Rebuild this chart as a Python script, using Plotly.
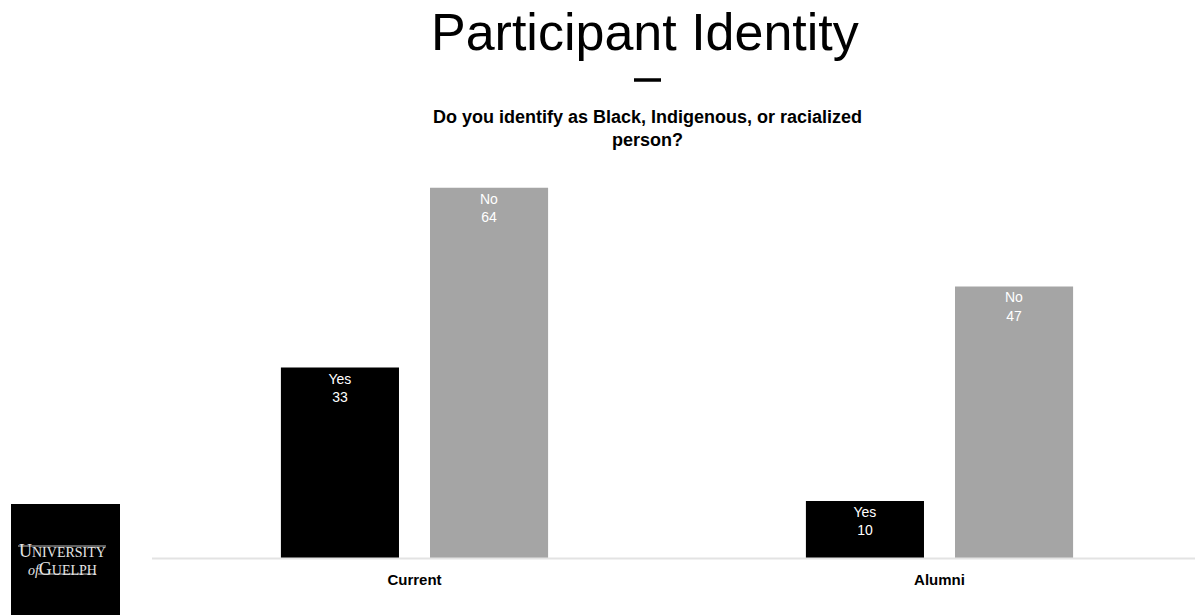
import plotly.graph_objects as go

# Survey responses by participant group
groups = ["Current", "Alumni"]
yes_counts = [33, 10]
no_counts = [64, 47]
series_names = ["Yes", "No"]

title_text = "Participant Identity"
question_text = "Do you identify as Black, Indigenous, or racialized<br>person?"

W, H = 1195, 615
L, R, T, B = 152, 0, 170, 56
plot_w = W - L - R
plot_h = H - T - B


def px_x(px):
    return (px - L) / plot_w


def px_y(py):
    return (H - B - py) / plot_h


FONT = "Liberation Sans, Arial, sans-serif"
SERIF = "Liberation Serif, Times New Roman, serif"

fig = go.Figure()
for name, vals, color in [(series_names[0], yes_counts, "#000000"),
                          (series_names[1], no_counts, "#A5A5A5")]:
    fig.add_trace(go.Bar(
        x=groups, y=vals, name=name,
        marker=dict(color=color, line=dict(width=0)),
        text=[f"{name}<br>{v}" for v in vals],
        textposition="inside", insidetextanchor="end",
        textfont=dict(family=FONT, size=14, color="#FFFFFF"),
        textangle=0,
        cliponaxis=False,
    ))

fig.update_layout(
    width=W, height=H,
    margin=dict(l=L, r=R, t=T, b=B, pad=0),
    paper_bgcolor="white", plot_bgcolor="white",
    barmode="group", bargap=0.432, bargroupgap=0.208,
    showlegend=False,
    uniformtext=dict(mode=False),
    xaxis=dict(
        range=[-0.5, -0.5 + plot_w / 525.0],
        showgrid=False, zeroline=False,
        showline=False,
        ticks="", tickfont=dict(family=FONT, size=15, color="#000000"),
        tickvals=groups, ticktext=[f"<b>{g}</b>" for g in groups],
        ticklabelstandoff=10,
    ),
    yaxis=dict(
        range=[0, plot_h / 5.8],
        showgrid=False, zeroline=False, showticklabels=False,
        ticks="", showline=False,
    ),
)

shapes = [
    # baseline
    dict(type="line", xref="paper", yref="paper", x0=0, x1=1,
         y0=px_y(558.5), y1=px_y(558.5), line=dict(color="#E3E3E3", width=2)),
    # title rule
    dict(type="line", xref="paper", yref="paper", x0=px_x(634), x1=px_x(661),
         y0=px_y(80), y1=px_y(80), line=dict(color="#000000", width=3.5)),
    # logo background
    dict(type="rect", xref="paper", yref="paper", x0=px_x(11), x1=px_x(120),
         y0=px_y(504), y1=px_y(615), fillcolor="#000000", line=dict(width=0)),
    dict(type="line", xref="paper", yref="paper", x0=px_x(18), x1=px_x(106),
         y0=px_y(546), y1=px_y(546), line=dict(color="#BFBFBF", width=1)),
    dict(type="line", xref="paper", yref="paper", x0=px_x(38), x1=px_x(96),
         y0=px_y(574), y1=px_y(574), line=dict(color="#BFBFBF", width=1)),
]
fig.update_layout(shapes=shapes)

logo_text = ("<span style='font-size:18px'>U</span>NIVERSITY<br>"
             "<i>of</i><span style='font-size:18px'>G</span>UELPH")

annotations = [
    dict(text=title_text, xref="paper", yref="paper", x=px_x(645), y=px_y(32),
         xanchor="center", yanchor="middle", showarrow=False,
         font=dict(family=FONT, size=52, color="#000000")),
    dict(text=f"<b>{question_text}</b>", xref="paper", yref="paper",
         x=px_x(647), y=px_y(128), xanchor="center", yanchor="middle",
         showarrow=False, align="center",
         font=dict(family=FONT, size=18, color="#000000")),
    dict(text=logo_text, xref="paper", yref="paper", x=px_x(62), y=px_y(560),
         xanchor="center", yanchor="middle", showarrow=False, align="center",
         font=dict(family=SERIF, size=14, color="#E6E6E6")),
]
fig.update_layout(annotations=annotations)

fig.write_html("out.html")
